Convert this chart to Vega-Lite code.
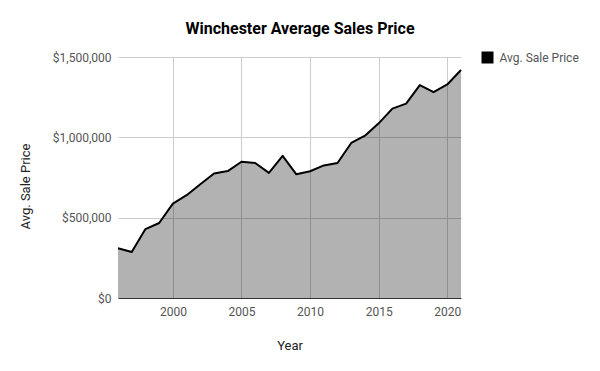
{
  "$schema": "https://vega.github.io/schema/vega-lite/v6.json",
  "autosize": "none",
  "width": 343,
  "height": 241,
  "padding": {"left": 118, "top": 57, "right": 139, "bottom": 73},
  "background": "white",
  "config": {
    "font": "Roboto",
    "view": {"stroke": null}
  },
  "title": {
    "text": "Winchester Average Sales Price",
    "font": "Roboto",
    "fontSize": 16,
    "fontWeight": "bold",
    "color": "#000000",
    "anchor": "middle",
    "dx": 10.5,
    "offset": 1,
    "baseline": "alphabetic"
  },
  "data": {
    "values": [
      {"year": 1996, "price": 310000},
      {"year": 1997, "price": 286000},
      {"year": 1998, "price": 429000},
      {"year": 1999, "price": 467000},
      {"year": 2000, "price": 587000},
      {"year": 2001, "price": 640000},
      {"year": 2002, "price": 708000},
      {"year": 2003, "price": 775000},
      {"year": 2004, "price": 790000},
      {"year": 2005, "price": 848000},
      {"year": 2006, "price": 840000},
      {"year": 2007, "price": 779000},
      {"year": 2008, "price": 885000},
      {"year": 2009, "price": 770000},
      {"year": 2010, "price": 789000},
      {"year": 2011, "price": 825000},
      {"year": 2012, "price": 840000},
      {"year": 2013, "price": 965000},
      {"year": 2014, "price": 1010000},
      {"year": 2015, "price": 1087000},
      {"year": 2016, "price": 1179000},
      {"year": 2017, "price": 1210000},
      {"year": 2018, "price": 1325000},
      {"year": 2019, "price": 1281000},
      {"year": 2020, "price": 1329000},
      {"year": 2021, "price": 1419000}
    ]
  },
  "encoding": {
    "x": {
      "field": "year",
      "type": "quantitative",
      "scale": {"domain": [1996, 2021], "nice": false, "zero": false},
      "axis": {
        "title": "Year",
        "values": [2000, 2005, 2010, 2015, 2020],
        "format": "d",
        "grid": true,
        "gridColor": "#cccccc",
        "gridWidth": 1,
        "domain": false,
        "ticks": false,
        "labelPadding": 8,
        "labelFontSize": 12,
        "labelColor": "#555555",
        "labelFont": "Roboto",
        "titleFont": "Roboto",
        "titleFontSize": 13,
        "titleFontWeight": "normal",
        "titleColor": "#222222",
        "titleBaseline": "alphabetic",
        "titleY": 51,
        "titleX": 171.5,
        "titleAlign": "center"
      }
    },
    "y": {
      "field": "price",
      "type": "quantitative",
      "scale": {"domain": [0, 1500000], "nice": false},
      "axis": {
        "title": "Avg. Sale Price",
        "values": [0, 500000, 1000000, 1500000],
        "format": "$,.0f",
        "grid": true,
        "gridColor": {"condition": {"test": "datum.value === 0", "value": "#333333"}, "value": "#cccccc"},
        "gridWidth": 1,
        "domain": false,
        "ticks": false,
        "labelPadding": 7,
        "labelFontSize": 12,
        "labelColor": "#555555",
        "labelFont": "Roboto",
        "titleFont": "Roboto",
        "titleFontSize": 13,
        "titleFontWeight": "normal",
        "titleColor": "#222222",
        "titleAngle": -90,
        "titleX": -93,
        "titleY": 129,
        "titleAlign": "center",
        "titleBaseline": "middle"
      }
    }
  },
  "layer": [
    {
      "mark": {"type": "area", "color": "#000000", "fillOpacity": 0.3}
    },
    {
      "mark": {"type": "line", "strokeWidth": 2, "strokeJoin": "round"},
      "encoding": {
        "color": {
          "datum": "Avg. Sale Price",
          "type": "nominal",
          "scale": {"range": ["#000000"]},
          "legend": {
            "title": null,
            "orient": "none",
            "legendX": 363.5,
            "legendY": -5.5,
            "padding": 0,
            "symbolType": "square",
            "symbolSize": 144,
            "symbolFillColor": "#000000",
            "symbolStrokeWidth": 0,
            "symbolOpacity": 1,
            "labelFont": "Roboto",
            "labelFontSize": 12,
            "labelColor": "#555555",
            "labelOffset": 6
          }
        }
      }
    }
  ]
}
